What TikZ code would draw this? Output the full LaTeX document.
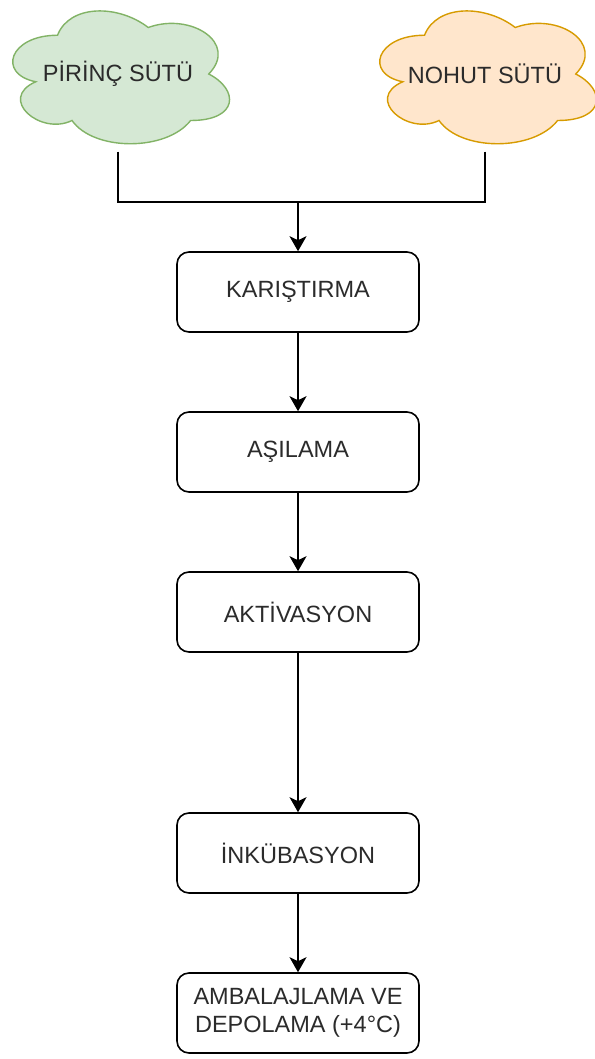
\documentclass[tikz,border=0pt]{standalone}
\usepackage{fontspec}
\setmainfont{Liberation Sans}
\usetikzlibrary{arrows.meta}
\definecolor{txt}{HTML}{2B2B2B}
\definecolor{gfill}{HTML}{D5E8D4}
\definecolor{gline}{HTML}{82B366}
\definecolor{ofill}{HTML}{FFE6CC}
\definecolor{oline}{HTML}{D79B00}
\tikzset{
  stepbox/.style={draw=black, line width=1.6pt, rounded corners=12pt, fill=white,
    minimum width=242pt, minimum height=80pt, align=center, text=txt,
    font=\fontsize{23.5}{28}\selectfont, inner sep=0pt},
  cloudlabel/.style={minimum width=242pt, minimum height=155pt, inner sep=0pt,
    text=txt, font=\fontsize{23.5}{28}\selectfont},
  conn/.style={draw=black, line width=1.8pt},
  arr/.style={conn, -{Stealth[length=15pt,width=17pt,inset=4pt]}},
}
\newcommand{\mycloud}[3]{%
  \path[fill=#2, draw=#3, line width=1.4pt, shift={#1}, xscale=242, yscale=155]
    (-.25,-.25) .. controls (-.45,-.25) and (-.5,0) .. (-.34,.05)
    .. controls (-.5,.16) and (-.32,.4) .. (-.19,.3)
    .. controls (-.1,.5) and (.2,.5) .. (.3,.3)
    .. controls (.5,.3) and (.5,.1) .. (.375,0)
    .. controls (.5,-.2) and (.3,-.4) .. (.125,-.3)
    .. controls (0,-.45) and (-.2,-.45) .. (-.25,-.25) -- cycle;}
\begin{document}
\begin{tikzpicture}[x=1pt, y=-1pt]
\useasboundingbox (0,0) rectangle (594,1059);
\fill[white] (0,0) rectangle (594,1059);
\mycloud{(118,74)}{gfill}{gline}
\mycloud{(485,74)}{ofill}{oline}
\node[cloudlabel] (rice) at (118,74) {PİRİNÇ SÜTÜ};
\node[cloudlabel] (chick) at (485,74) {NOHUT SÜTÜ};
\node[stepbox] (mix) at (298,292) {KARIŞTIRMA};
\node[stepbox] (inoc) at (298,452) {AŞILAMA};
\node[stepbox] (act) at (298,612) {AKTİVASYON};
\node[stepbox] (inc) at (298,853) {İNKÜBASYON};
\node[stepbox] (pack) at (298,1013) {AMBALAJLAMA VE\\DEPOLAMA (+4°C)};
\coordinate (join) at (298,202);
\draw[conn] (rice.south) |- (join);
\draw[conn] (chick.south) |- (join);
\draw[arr] (join) -- (mix.north);
\draw[arr] (mix) -- (inoc);
\draw[arr] (inoc) -- (act);
\draw[arr] (act) -- (inc);
\draw[arr] (inc) -- (pack);
\end{tikzpicture}
\end{document}
